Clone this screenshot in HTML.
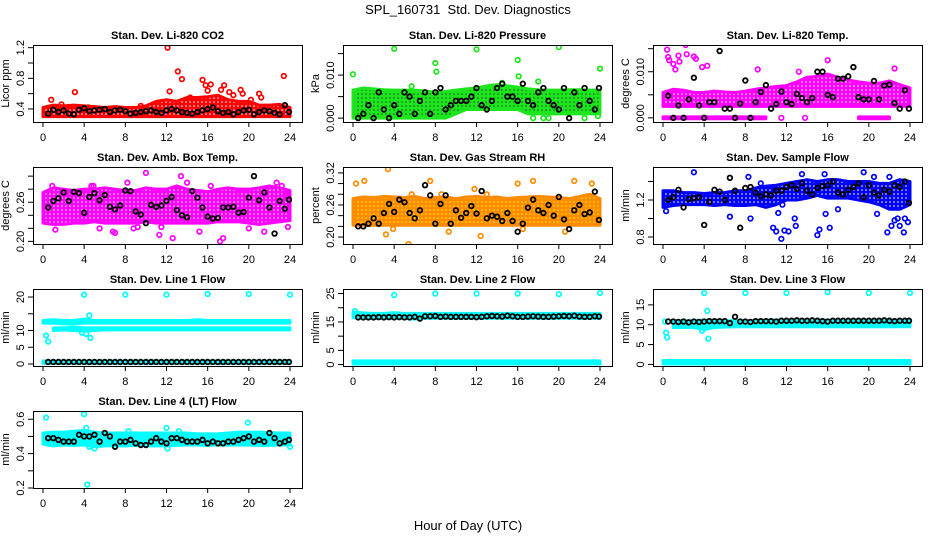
<!DOCTYPE html>
<html><head><meta charset="utf-8">
<style>
html,body{margin:0;padding:0;background:#fff;}
svg{display:block;font-family:"Liberation Sans",Arial,sans-serif;}
.t{font-weight:bold;font-size:11px;}
.tk{font-size:11px;}
</style></head>
<body>
<svg id="chart" width="936" height="540" viewBox="0 0 936 540" xmlns="http://www.w3.org/2000/svg">
<rect width="936" height="540" fill="#fff"/>
<defs id="defs"></defs>
<text x="468" y="14" text-anchor="middle" font-size="13">SPL_160731&#160;&#160;Std. Dev. Diagnostics</text>
<text x="468" y="530" text-anchor="middle" font-size="13">Hour of Day (UTC)</text>
<g id="panels"></g>
</svg>
<script>
// ---- shared categories ----
const bandHours = [0,1,2,3,4,5,6,7,8,9,10,11,12,13,14,15,16,17,18,19,20,21,22,23,24];
const halfHours = [0.5,1,1.5,2,2.5,3,3.5,4,4.5,5,5.5,6,6.5,7,7.5,8,8.5,9,9.5,10,10.5,11,11.5,12,12.5,13,13.5,14,14.5,15,15.5,16,16.5,17,17.5,18,18.5,19,19.5,20,20.5,21,21.5,22,22.5,23,23.5,23.9];
const xTicks = [0,4,8,12,16,20,24];

// ---- CO2 ----
const co2Lo = [0.3,0.3,0.3,0.3,0.3,0.3,0.3,0.3,0.3,0.3,0.3,0.3,0.3,0.3,0.3,0.3,0.3,0.3,0.3,0.3,0.3,0.3,0.3,0.3,0.3];
const co2Hi = [0.42,0.45,0.44,0.45,0.44,0.43,0.42,0.43,0.42,0.42,0.44,0.5,0.52,0.5,0.55,0.55,0.56,0.58,0.52,0.5,0.5,0.45,0.45,0.46,0.42];
const co2OutX = [0.8,3.1,12.1,12.3,13.1,13.5,15.5,15.8,16.3,17.3,17.6,18.1,18.5,19.2,19.4,21.0,21.2,23.4,16.0,14.3,20.2,9.5,4.4,1.8];
const co2OutY = [0.52,0.62,1.2,0.63,0.89,0.79,0.78,0.71,0.72,0.65,0.71,0.62,0.58,0.65,0.6,0.6,0.55,0.83,0.64,0.55,0.52,0.44,0.42,0.46];
const co2Black = [0.34,0.39,0.36,0.38,0.34,0.33,0.39,0.41,0.37,0.38,0.39,0.40,0.36,0.38,0.39,0.37,0.34,0.35,0.36,0.37,0.38,0.36,0.35,0.38,0.40,0.38,0.36,0.35,0.34,0.36,0.38,0.40,0.42,0.37,0.35,0.36,0.33,0.36,0.38,0.39,0.33,0.36,0.38,0.37,0.35,0.33,0.45,0.36];
const co2Ticks = [0.4,0.6,0.8,1.0,1.2];
const co2Labels = ["0.4","","0.8","","1.2"];

// ---- Pressure ----
const presLo = [0,0,0,0,0,0,0,0,0,0,0.001,0.002,0.002,0.002,0.002,0.002,0.002,0.001,0.001,0.001,0.001,0.001,0.001,0.001,0.001];
const presHi = [0.0065,0.007,0.0068,0.0066,0.0065,0.0065,0.0065,0.0063,0.006,0.0062,0.0065,0.0068,0.007,0.0075,0.0078,0.0075,0.0072,0.0068,0.0066,0.0065,0.0065,0.0066,0.0066,0.0065,0.0065];
const presOutX = [0,4,8,8.1,12,16,16.1,20,24,14.5,18,5.7,17.5,18.5,22.5,19,23.8];
const presOutY = [0.0102,0.0161,0.0128,0.0108,0.016,0.0135,0.0097,0.0165,0.0115,0.0082,0.0085,0.0074,0,0,0,0,0.0005];
const presBlack = [0.000,0.001,0.003,0.000,0.006,0.002,0.000,0.003,0.001,0.006,0.005,0.001,0.004,0.006,0.001,0.006,0.007,0.002,0.003,0.004,0.004,0.004,0.005,0.007,0.003,0.002,0.004,0.007,0.008,0.005,0.005,0.004,0.008,0.004,0.003,0.006,0.007,0.004,0.003,0.002,0.007,0.000,0.006,0.003,0.007,0.004,0.002,0.007];
const presTicks = [0,0.005,0.010,0.015];
const presLabels = ["0.000","","0.010",""];

// ---- Li-820 Temp ----
const tempLo = [0.0025,0.0025,0.0025,0.0025,0.0025,0.0025,0.0025,0.0025,0.0025,0.0025,0.0025,0.0025,0.0025,0.0025,0.0025,0.0025,0.0025,0.0025,0.0025,0.0025,0.0025,0.0025,0.0025,0.0025,0.0025];
const tempHi = [0.0055,0.0062,0.006,0.0055,0.0055,0.0058,0.0056,0.0055,0.0058,0.0062,0.0065,0.0068,0.007,0.0078,0.0088,0.009,0.0095,0.0088,0.0082,0.0078,0.0075,0.0075,0.008,0.0072,0.0065];
const tempZeroLo = [-0.0002,-0.0002,-0.0002,-0.0002,-0.0002,-0.0002,-0.0002,-0.0002,-0.0002,-0.0002,-0.0002,null,null,null,null,null,null,null,null,-0.0002,-0.0002,-0.0002,-0.0002,null,null];
const tempZeroHi = [0.0002,0.0002,0.0002,0.0002,0.0002,0.0002,0.0002,0.0002,0.0002,0.0002,0.0002,null,null,null,null,null,null,null,null,0.0002,0.0002,0.0002,0.0002,null,null];
const tempOutX = [0.4,0.5,0.6,1.0,1.5,1.6,2.2,2.3,3.0,3.2,3.8,4.3,1.2,16,22.5,13.2,9.2,11.5,13.8];
const tempOutY = [0.0148,0.0132,0.0125,0.0117,0.0135,0.0122,0.0158,0.0138,0.0133,0.0128,0.011,0.0113,0.0105,0.0125,0.0107,0.01,0.0105,0,0];
const tempBlack = [0.0048,0.000,0.0027,0.000,0.0040,0.0087,0.0027,0.000,0.0034,0.0034,0.0145,0.0020,0.0020,0.000,0.0031,0.0081,0.0000,0.0034,0.0056,0.0071,0.0020,0.0030,0.0057,0.0034,0.0030,0.0052,0.0043,0.0034,0.0043,0.0100,0.0100,0.0050,0.0045,0.0085,0.0085,0.0090,0.0110,0.0045,0.0040,0.0040,0.0080,0.0040,0.0070,0.0072,0.0032,0.0020,0.0060,0.0020];
const tempTicks = [0,0.005,0.010,0.015];
const tempLabels = ["0.000","","0.010",""];

// ---- Amb Box Temp ----
const ambLo = [0.228,0.226,0.226,0.228,0.228,0.23,0.228,0.228,0.228,0.228,0.23,0.228,0.228,0.228,0.228,0.228,0.228,0.23,0.23,0.23,0.228,0.226,0.228,0.23,0.232];
const ambHi = [0.275,0.282,0.28,0.278,0.28,0.28,0.282,0.28,0.278,0.278,0.282,0.28,0.28,0.285,0.28,0.278,0.276,0.28,0.282,0.28,0.28,0.282,0.285,0.282,0.278];
const ambOutX = [0.9,0.7,1.2,4.7,4.9,6.8,7.0,8.2,8.8,10.0,10.9,11.3,11.5,12.6,13.4,14.0,15.2,16.3,17.2,17.5,19.0,20.0,21.5,22.7,23.2,23.5,23.8,2.5,5.5,9.2];
const ambOutY = [0.285,0.23,0.218,0.285,0.285,0.215,0.213,0.29,0.22,0.305,0.278,0.21,0.222,0.205,0.30,0.29,0.215,0.285,0.2,0.205,0.275,0.22,0.215,0.29,0.285,0.27,0.222,0.274,0.22,0.222];
const ambBlack = [0.252,0.262,0.266,0.275,0.262,0.276,0.274,0.244,0.268,0.274,0.263,0.271,0.253,0.249,0.255,0.278,0.277,0.246,0.241,0.228,0.256,0.253,0.255,0.262,0.268,0.248,0.240,0.237,0.277,0.267,0.252,0.238,0.235,0.236,0.252,0.252,0.253,0.244,0.245,0.267,0.300,0.263,0.275,0.252,0.212,0.262,0.250,0.264];
const ambTicks = [0.20,0.22,0.24,0.26,0.28,0.30];
const ambLabels = ["0.20","","","0.26","",""];

// ---- Gas Stream RH ----
const rhLo = [0.222,0.222,0.222,0.222,0.222,0.222,0.222,0.222,0.222,0.222,0.222,0.222,0.222,0.222,0.222,0.222,0.222,0.222,0.222,0.222,0.222,0.222,0.222,0.222,0.222];
const rhHi = [0.272,0.275,0.274,0.276,0.275,0.274,0.276,0.272,0.274,0.275,0.272,0.275,0.276,0.274,0.275,0.272,0.274,0.275,0.276,0.275,0.274,0.272,0.276,0.28,0.272];
const rhOutX = [0.3,1.1,3.4,3.2,5.7,7.5,8.6,12.4,11.8,13.0,16,17.5,21.5,23.2,5.4,9.3,20.6,16.5,3.9];
const rhOutY = [0.30,0.305,0.327,0.205,0.28,0.305,0.28,0.202,0.29,0.28,0.3,0.305,0.305,0.3,0.187,0.21,0.21,0.215,0.215];
const rhBlack = [0.22,0.22,0.225,0.235,0.225,0.245,0.262,0.247,0.270,0.265,0.245,0.235,0.250,0.297,0.278,0.225,0.262,0.278,0.225,0.250,0.236,0.245,0.258,0.244,0.286,0.235,0.240,0.238,0.230,0.245,0.230,0.210,0.225,0.255,0.270,0.250,0.245,0.260,0.240,0.275,0.233,0.215,0.250,0.260,0.243,0.246,0.285,0.232];
const rhTicks = [0.20,0.22,0.24,0.26,0.28,0.30,0.32];
const rhLabels = ["0.20","","","0.26","","","0.32"];

// ---- Sample Flow ----
const sfLo = [1.12,1.14,1.15,1.15,1.15,1.14,1.15,1.14,1.14,1.15,1.12,1.15,1.2,1.2,1.22,1.25,1.22,1.22,1.22,1.2,1.18,1.15,1.1,1.1,1.15];
const sfHi = [1.3,1.3,1.28,1.28,1.27,1.28,1.28,1.3,1.3,1.33,1.35,1.36,1.38,1.4,1.42,1.4,1.42,1.42,1.4,1.4,1.4,1.38,1.38,1.42,1.4];
const sfOutX = [0.3,3.0,6.5,8.3,8.5,9.5,10.7,11.0,11.5,11.8,12.2,12.8,12.9,15.0,15.2,15.8,16.2,17.0,19.5,20.5,20.8,21.8,22.2,22.5,22.8,23.0,23.4,23.5,23.8,13.5,15.7,7.0,11.2,11.6,22];
const sfOutY = [1.08,1.5,1.02,1.45,1.0,1.38,0.9,0.86,0.78,0.87,0.86,1.0,0.92,0.82,0.88,1.05,0.9,1.1,1.5,1.45,1.05,0.85,0.92,0.98,1.0,0.92,0.85,1.0,0.96,1.48,1.48,1.18,1.06,1.15,1.45];
const sfBlack = [1.2,1.23,1.31,1.12,1.21,1.22,1.23,0.93,1.18,1.31,1.29,1.20,1.44,1.30,0.9,1.33,1.34,1.28,1.24,1.26,1.25,1.30,1.30,1.34,1.36,1.32,1.38,1.30,1.26,1.33,1.35,1.36,1.40,1.28,1.26,1.31,1.34,1.38,1.23,1.36,1.28,1.25,1.31,1.29,1.36,1.34,1.40,1.17];
const sfTicks = [0.8,1.0,1.2,1.4];
const sfLabels = ["0.8","","1.2",""];

// ---- Line 1 Flow ----
const l1aLo = [null,10.0,10.2,10.0,9.8,10.0,10.2,10.2,10.2,10.2,10.2,10.2,10.2,10.2,10.2,10.2,10.2,10.2,10.2,10.2,10.2,10.2,10.2,10.2,10.2];
const l1aHi = [null,10.8,10.8,11.0,10.8,10.8,10.8,10.8,10.8,10.8,10.8,10.8,10.8,10.8,10.8,10.8,10.8,10.8,10.8,10.8,10.8,10.8,10.8,10.8,10.8];
const l1bLo = [12.2,12.2,12.0,12.0,12.2,12.2,12.2,12.2,12.2,12.2,12.2,12.2,12.2,12.2,12.2,12.2,12.2,12.2,12.2,12.2,12.2,12.2,12.2,12.2,12.2];
const l1bHi = [13.0,13.2,13.0,13.0,13.4,13.0,13.0,13.0,13.0,13.0,13.0,13.0,13.0,13.0,13.0,13.2,13.0,13.0,13.0,13.0,13.0,13.0,13.0,13.0,13.0];
const l1zLo = [0.2,0.2,0.2,0.2,0.2,0.2,0.2,0.2,0.2,0.2,0.2,0.2,0.2,0.2,0.2,0.2,0.2,0.2,0.2,0.2,0.2,0.2,0.2,0.2,0.2];
const l1zHi = [0.9,0.9,0.9,0.9,0.9,0.9,0.9,0.9,0.9,0.9,0.9,0.9,0.9,0.9,0.9,0.9,0.9,0.9,0.9,0.9,0.9,0.9,0.9,0.9,0.9];
const l1OutX = [4,8,12,16,20,24,0.3,0.5,4.5,4.6,4.2,3.8];
const l1OutY = [20.7,20.7,20.7,20.9,20.9,20.7,8.5,6.7,14.5,7.8,9.0,9.3];
const l1Black = [0.6,0.6,0.6,0.6,0.6,0.6,0.6,0.6,0.6,0.6,0.6,0.6,0.6,0.6,0.6,0.6,0.6,0.6,0.6,0.6,0.6,0.6,0.6,0.6,0.6,0.6,0.6,0.6,0.6,0.6,0.6,0.6,0.6,0.6,0.6,0.6,0.6,0.6,0.6,0.6,0.6,0.6,0.6,0.6,0.6,0.6,0.6,0.6];
const l1Ticks = [0,5,10,15,20];
const l1Labels = ["0","5","10","","20"];

// ---- Line 2 Flow ----
const l2aLo = [16.5,16.2,16.2,16.2,16.2,16.2,16.0,16.3,16.3,16.3,16.3,16.3,16.3,16.3,16.3,16.3,16.3,16.3,16.3,16.3,16.3,16.3,16.3,16.3,16.3];
const l2aHi = [18.5,18.2,18.0,18.0,18.3,18.0,18.0,18.0,18.0,18.0,18.0,18.0,18.0,18.0,18.0,18.0,18.0,18.0,18.0,18.0,18.0,18.0,18.0,18.0,18.0];
const l2zLo = [0.2,0.2,0.2,0.2,0.2,0.2,0.2,0.2,0.2,0.2,0.2,0.2,0.2,0.2,0.2,0.2,0.2,0.2,0.2,0.2,0.2,0.2,0.2,0.2,0.2];
const l2zHi = [1.3,1.3,1.3,1.3,1.3,1.3,1.3,1.3,1.3,1.3,1.3,1.3,1.3,1.3,1.3,1.3,1.3,1.3,1.3,1.3,1.3,1.3,1.3,1.3,1.3];
const l2OutX = [4,8,12,16,20,24,0.2];
const l2OutY = [24.5,25,25,25,24.8,25.2,18.8];
const l2Black = [16.6,16.6,16.6,16.6,16.7,16.6,16.7,16.6,16.7,16.6,16.6,16.8,16.2,17.0,17.0,17.1,16.8,16.9,16.8,16.8,16.8,16.8,16.8,16.7,16.8,17.0,17.1,17.0,16.9,17.2,17.0,16.8,16.8,16.9,17.0,16.9,16.8,16.8,16.9,17.0,17.1,17.0,17.2,16.9,16.8,16.8,17.0,16.9];
const l2Ticks = [0,5,10,15,20,25];
const l2Labels = ["0","5","","15","","25"];

// ---- Line 3 Flow ----
const l3aLo = [null,9.3,9.3,9.3,8.8,9.3,9.4,9.5,9.5,9.5,9.5,9.5,9.5,9.5,9.5,9.5,9.5,9.5,9.5,9.5,9.5,9.5,9.5,9.5,9.5];
const l3aHi = [null,11.0,11.0,11.0,11.2,11.0,11.0,11.0,11.0,11.0,11.2,11.2,11.2,11.2,11.2,11.2,11.2,11.2,11.2,11.2,11.2,11.2,11.2,11.2,11.2];
const l3zLo = [0.1,0.1,0.1,0.1,0.1,0.1,0.1,0.1,0.1,0.1,0.1,0.1,0.1,0.1,0.1,0.1,0.1,0.1,0.1,0.1,0.1,0.1,0.1,0.1,0.1];
const l3zHi = [1.0,1.0,1.0,1.0,1.0,1.0,1.0,1.0,1.0,1.0,1.0,1.0,1.0,1.0,1.0,1.0,1.0,1.0,1.0,1.0,1.0,1.0,1.0,1.0,1.0];
const l3OutX = [4,8,12,16,20,24,0.3,0.4,4.3,4.4,3.8,0.2];
const l3OutY = [18,18,18,18.2,18,18,8.0,6.8,13.5,6.5,8.5,10.8];
const l3Black = [10.8,10.8,10.7,10.8,10.6,10.8,10.7,10.8,10.9,10.9,10.9,10.9,10.4,12.0,10.8,10.8,10.7,10.9,10.9,10.9,10.9,10.8,11.0,11.0,11.0,11.1,11.0,11.0,11.1,11.0,10.9,10.8,11.0,11.0,11.0,11.0,11.0,11.0,11.0,11.0,11.0,11.0,11.1,11.0,10.9,11.0,11.0,11.0];
const l3Ticks = [0,5,10,15];
const l3Labels = ["0","5","10","15"];

// ---- Line 4 (LT) Flow ----
const l4Lo = [0.455,0.445,0.45,0.448,0.45,0.44,0.445,0.445,0.445,0.448,0.445,0.445,0.445,0.448,0.45,0.45,0.448,0.45,0.45,0.45,0.45,0.448,0.448,0.45,0.45];
const l4Hi = [0.52,0.525,0.525,0.53,0.535,0.525,0.52,0.52,0.52,0.52,0.52,0.52,0.52,0.52,0.52,0.515,0.515,0.515,0.52,0.525,0.525,0.525,0.522,0.52,0.52];
const l4OutX = [0.3,4.0,4.5,4.3,8.3,12,13.2,19.9,24,12.1,5.0,4.2];
const l4OutY = [0.61,0.63,0.44,0.22,0.53,0.55,0.53,0.58,0.44,0.43,0.43,0.55];
const l4Black = [0.49,0.49,0.48,0.47,0.47,0.47,0.51,0.50,0.50,0.51,0.47,0.52,0.50,0.44,0.47,0.47,0.48,0.46,0.45,0.45,0.47,0.49,0.47,0.46,0.49,0.49,0.48,0.47,0.47,0.47,0.48,0.46,0.47,0.46,0.46,0.47,0.47,0.48,0.49,0.50,0.47,0.48,0.47,0.52,0.49,0.46,0.47,0.48];
const l4Ticks = [0.2,0.3,0.4,0.5,0.6];
const l4Labels = ["0.2","","0.4","","0.6"];

const NS = "http://www.w3.org/2000/svg";
const root = document.getElementById('panels');
const defs = document.getElementById('defs');
function el(tag, attrs, parent){
  const e = document.createElementNS(NS, tag);
  for (const k in attrs) e.setAttribute(k, attrs[k]);
  parent.appendChild(e);
  return e;
}

const panels = [
  {key:'co2', title:'Stan. Dev. Li-820 CO2', ylab:'Licor ppm', col:0,row:0, ymin:0.23, ymax:1.235, color:'#ff0000', dot:'#fff',
    bands:[[co2Lo,co2Hi]], ox:co2OutX, oy:co2OutY, black:co2Black, ticks:co2Ticks, labels:co2Labels},
  {key:'pressure', title:'Stan. Dev. Li-820 Pressure', ylab:'kPa', col:1,row:0, ymin:-0.0009, ymax:0.017, color:'#1ee61e', dot:'#1a5a1a',
    bands:[[presLo,presHi]], ox:presOutX, oy:presOutY, black:presBlack, ticks:presTicks, labels:presLabels},
  {key:'temp', title:'Stan. Dev. Li-820 Temp.', ylab:'degrees C', col:2,row:0, ymin:-0.0009, ymax:0.0158, color:'#ff00ff', dot:'#fff',
    bands:[[tempLo,tempHi],[tempZeroLo,tempZeroHi]], ox:tempOutX, oy:tempOutY, black:tempBlack, ticks:tempTicks, labels:tempLabels},
  {key:'ambbox', title:'Stan. Dev. Amb. Box Temp.', ylab:'degrees C', col:0,row:1, ymin:0.196, ymax:0.314, color:'#ff00ff', dot:'#fff',
    bands:[[ambLo,ambHi]], ox:ambOutX, oy:ambOutY, black:ambBlack, ticks:ambTicks, labels:ambLabels},
  {key:'rh', title:'Stan. Dev. Gas Stream RH', ylab:'percent', col:1,row:1, ymin:0.187, ymax:0.331, color:'#ff8c00', dot:'#ffee00',
    bands:[[rhLo,rhHi]], ox:rhOutX, oy:rhOutY, black:rhBlack, ticks:rhTicks, labels:rhLabels},
  {key:'sampleflow', title:'Stan. Dev. Sample Flow', ylab:'ml/min', col:2,row:1, ymin:0.724, ymax:1.557, color:'#0000ff', dot:'#fff',
    bands:[[sfLo,sfHi]], ox:sfOutX, oy:sfOutY, black:sfBlack, ticks:sfTicks, labels:sfLabels},
  {key:'line1', title:'Stan. Dev. Line 1 Flow', ylab:'ml/min', col:0,row:2, ymin:-0.6, ymax:22.4, color:'#00ffff', dot:'#00ffff',
    bands:[[l1aLo,l1aHi],[l1bLo,l1bHi],[l1zLo,l1zHi]], ox:l1OutX, oy:l1OutY, black:l1Black, ticks:l1Ticks, labels:l1Labels},
  {key:'line2', title:'Stan. Dev. Line 2 Flow', ylab:'ml/min', col:1,row:2, ymin:-0.5, ymax:26.6, color:'#00ffff', dot:'#00ffff',
    bands:[[l2aLo,l2aHi],[l2zLo,l2zHi]], ox:l2OutX, oy:l2OutY, black:l2Black, ticks:l2Ticks, labels:l2Labels},
  {key:'line3', title:'Stan. Dev. Line 3 Flow', ylab:'ml/min', col:2,row:2, ymin:-0.4, ymax:19.0, color:'#00ffff', dot:'#00ffff',
    bands:[[l3aLo,l3aHi],[l3zLo,l3zHi]], ox:l3OutX, oy:l3OutY, black:l3Black, ticks:l3Ticks, labels:l3Labels},
  {key:'line4', title:'Stan. Dev. Line 4 (LT) Flow', ylab:'ml/min', col:0,row:3, ymin:0.2, ymax:0.648, color:'#00ffff', dot:'#00ffff',
    bands:[[l4Lo,l4Hi]], ox:l4OutX, oy:l4OutY, black:l4Black, ticks:l4Ticks, labels:l4Labels},
];

const colLeft = [33, 343, 653];
const BOXW = 269, BOXH = 77;

panels.forEach(p => {
  const L = colLeft[p.col], T = 45 + 122*p.row, R = L + BOXW, B = T + BOXH;
  const xs = h => L + 10 + h * (247/24);
  const ys = v => B - (v - p.ymin) / (p.ymax - p.ymin) * BOXH;
  const g = el('g', {}, root);
  
  

  // texture pattern for dense point clouds
  const pat = el('pattern', {id:'pat-'+p.key, width:4, height:4, patternUnits:'userSpaceOnUse'}, defs);
  el('rect', {width:4, height:4, fill:p.color}, pat);
  el('circle', {cx:2, cy:2, r:0.8, fill:p.dot}, pat);

  const tt = el('text', {x:(L+R)/2, y:T-6, 'text-anchor':'middle', class:'t'}, g);
  tt.textContent = p.title;
  
  

  const clipId = 'clip-' + p.key;
  const cp = el('clipPath', {id:clipId}, g);
  el('rect', {x:L, y:T, width:BOXW, height:BOXH}, cp);
  const plot = el('g', {'clip-path':'url(#'+clipId+')'}, g);

  p.bands.forEach((bd, bi) => {
    const lo = bd[0], hi = bd[1];
    let seg = [];
    const segs = [];
    bandHours.forEach((h, i) => {
      if (lo[i] === null || hi[i] === null) { if (seg.length) segs.push(seg); seg = []; }
      else seg.push(i);
    });
    if (seg.length) segs.push(seg);
    segs.forEach(s => {
      const top = s.map(i => xs(bandHours[i]) + ',' + ys(hi[i]));
      const bot = s.slice().reverse().map(i => xs(bandHours[i]) + ',' + ys(lo[i]));
      const poly = el('polygon', {points: top.concat(bot).join(' '), fill: 'url(#pat-'+p.key+')', stroke: p.color,
        'stroke-width': 3, 'stroke-linejoin':'round'}, plot);
      
      
    });
  });

  p.ox.forEach((h, i) => {
    const c = el('circle', {cx: xs(h), cy: ys(p.oy[i]), r: 2.3, fill:'none', stroke: p.color, 'stroke-width': 1.7}, plot);
    
    
  });

  p.black.forEach((v, i) => {
    if (i >= halfHours.length) return;
    const c = el('circle', {cx: xs(halfHours[i]), cy: ys(v), r: 2.3, fill:'none', stroke:'#000', 'stroke-width': 1.8}, plot);
    
    
  });

  const box = el('rect', {x:L+0.5, y:T+0.5, width:BOXW, height:BOXH, fill:'none', stroke:'#000', 'stroke-width':1}, g);
  
  

  const xa = el('g', {}, g);
  
  
  xTicks.forEach(t => {
    const x = xs(t);
    el('line', {x1:x, x2:x, y1:B, y2:B+5, stroke:'#000'}, xa);
    const lt = el('text', {x:x, y:B+19, 'text-anchor':'middle', class:'tk'}, xa);
    lt.textContent = t;
  });

  const ya = el('g', {}, g);
  
  
  p.ticks.forEach((t, i) => {
    const y = ys(t);
    el('line', {x1:L-5, x2:L, y1:y, y2:y, stroke:'#000'}, ya);
    if (p.labels[i]) {
      const lt = el('text', {x:L-9, y:y, 'text-anchor':'middle', class:'tk', transform:'rotate(-90 '+(L-9)+' '+y+')'}, ya);
      lt.textContent = p.labels[i];
    }
  });
  const yl = el('text', {x:L-24, y:(T+B)/2, 'text-anchor':'middle', 'font-size':'11', transform:'rotate(-90 '+(L-24)+' '+((T+B)/2)+')'}, g);
  yl.textContent = p.ylab;
  
  
});
</script>
</body></html>
